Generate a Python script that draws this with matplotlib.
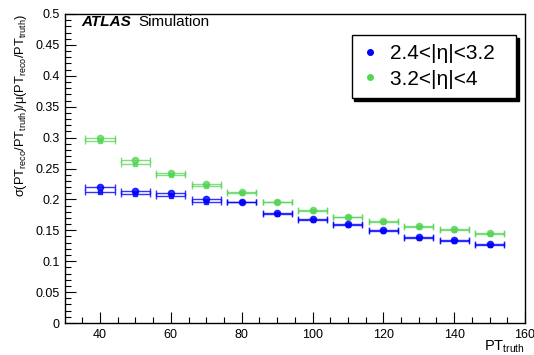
import numpy as np
import matplotlib.pyplot as plt
from matplotlib.lines import Line2D

# data
pt_truth = [40, 50, 60, 70, 80, 90, 100, 110, 120, 130, 140, 150]
pt_halfwidth = 4.1

# 2.4<|eta|<3.2 : two overlapping sets (circle / second marker)
blue_a = [0.220, 0.214, 0.210, 0.200, 0.196, 0.178, 0.168, 0.160, 0.150, 0.139, 0.134, 0.128]
blue_b = [0.212, 0.208, 0.205, 0.196, 0.195, 0.177, 0.167, 0.159, 0.149, 0.138, 0.133, 0.127]
# 3.2<|eta|<4
green_a = [0.300, 0.264, 0.243, 0.225, 0.212, 0.196, 0.183, 0.172, 0.165, 0.157, 0.152, 0.145]
green_b = [0.294, 0.258, 0.239, 0.221, 0.211, 0.195, 0.182, 0.171, 0.164, 0.156, 0.151, 0.144]

labels = ['2.4<|η|<3.2', '3.2<|η|<4']

plt.rcParams['font.family'] = ['Liberation Sans', 'DejaVu Sans']
plt.rcParams['mathtext.fontset'] = 'custom'
plt.rcParams['mathtext.rm'] = 'Liberation Sans'
plt.rcParams['mathtext.it'] = 'Liberation Sans:italic'

fig = plt.figure(figsize=(5.34, 3.55), dpi=100)
ax = fig.add_axes([64.6 / 534, 1 - 323 / 355, (525 - 64.6) / 534, (323 - 14) / 355])

blue = '#0000ff'
green = '#55d455'

for vals, col, mk, lab in [(green_b, green, 's', None), (green_a, green, 'o', labels[1]),
                           (blue_b, blue, 's', None), (blue_a, blue, 'o', labels[0])]:
    ax.errorbar(pt_truth, vals, xerr=pt_halfwidth, fmt=mk, color=col, ms=4.5 if mk == 'o' else 3.5,
                elinewidth=1.0, capsize=2, capthick=1.0, alpha=0.75 if col == green else 0.8,
                label=lab, zorder=3)

ax.set_xlim(30, 160)
ax.set_ylim(0, 0.5)
ax.set_xticks(np.arange(40, 161, 20))
ax.set_xticks(np.arange(35, 160, 5), minor=True)
ax.set_yticks(np.arange(0, 0.501, 0.05))
ax.set_yticks(np.arange(0, 0.5, 0.01), minor=True)
ax.set_yticklabels(['0', '0.05', '0.1', '0.15', '0.2', '0.25', '0.3', '0.35', '0.4', '0.45', '0.5'])
ax.tick_params(axis='both', which='major', direction='in', length=8, width=0.8, labelsize=9,
               top=False, right=False)
ax.tick_params(axis='both', which='minor', direction='in', length=4, width=0.8, top=False, right=False)
ax.tick_params(axis='x', pad=4)
for s in ax.spines.values():
    s.set_linewidth(1.0)

ax.set_ylabel(r'σ(PT$_{\mathrm{reco}}$/PT$_{\mathrm{truth}}$)/μ(PT$_{\mathrm{reco}}$/PT$_{\mathrm{truth}}$)',
              fontsize=9.3, loc='top', labelpad=5)
ax.set_xlabel(r'PT$_{\mathrm{truth}}$', fontsize=10.5)
ax.xaxis.set_label_coords(1.0, -0.052)
ax.xaxis.label.set_horizontalalignment('right')

ax.text(0.037, 0.974, 'ATLAS', transform=ax.transAxes, fontsize=11, fontweight='bold',
        fontstyle='italic', va='center', ha='left')
ax.text(0.16, 0.974, 'Simulation', transform=ax.transAxes, fontsize=11, va='center', ha='left')

h = [Line2D([], [], ls='', marker='o', color=blue, ms=4),
     Line2D([], [], ls='', marker='o', color=green, ms=4)]
leg = ax.legend(h, [l + '  ' for l in labels], loc='upper right', bbox_to_anchor=(0.98, 0.932),
                borderaxespad=0, fontsize=15, frameon=True, fancybox=False,
                shadow={'color': 'black', 'alpha': 1},
                handletextpad=0.5, borderpad=0.45, labelspacing=0.3, handlelength=0.9)
leg.get_frame().set_edgecolor('black')
leg.get_frame().set_linewidth(1.0)

fig.savefig('out.png', dpi=100)
